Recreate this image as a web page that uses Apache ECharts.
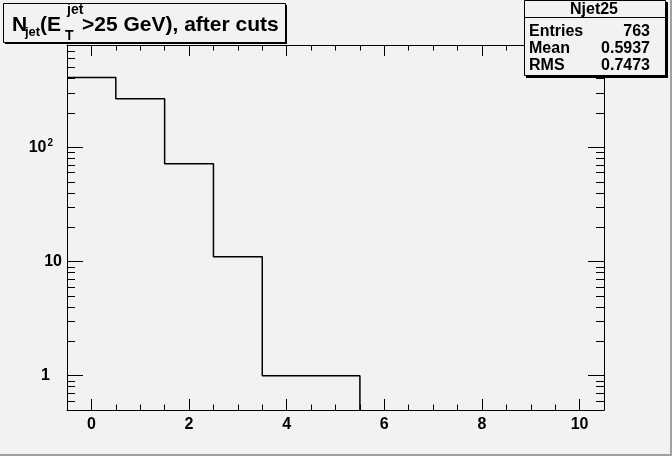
<!DOCTYPE html>
<html>
<head>
<meta charset="utf-8">
<script src="https://cdn.jsdelivr.net/npm/echarts@6/dist/echarts.min.js"></script>
<style>
html,body{margin:0;padding:0;background:#f2f2f2;}
#c{width:672px;height:456px;}
</style>
</head>
<body>
<div id="c"></div>
<script>
// ---- data ----
const binEdges = [-0.5, 0.5, 1.5, 2.5, 3.5, 4.5, 5.5, 6.5, 7.5, 8.5, 9.5, 10.5];
const binCounts = [411, 267, 72, 11, 1, 1, 0, 0, 0, 0, 0];
const xMajorTicks = [0, 2, 4, 6, 8, 10];
const xMinorTicks = [0.5, 1, 1.5, 2.5, 3, 3.5, 4.5, 5, 5.5, 6.5, 7, 7.5, 8.5, 9, 9.5];
const yMajorTicks = [1, 10, 100];
const yMinorTicks = [0.6, 0.7, 0.8, 0.9, 2, 3, 4, 5, 6, 7, 8, 9, 20, 30, 40, 50, 60, 70, 80, 90, 200, 300, 400, 500, 600, 700];
const xRange = [-0.5, 10.5];
const yRange = [0.5, 790];
const histName = 'Njet25';
const statsNames = ['Entries', 'Mean', 'RMS'];
const statsValues = ['763', '0.5937', '0.7473'];

// ---- build step outline from bins ----
const stepPts = [];
let lastNonZero = -1;
binCounts.forEach((v, i) => { if (v > 0) lastNonZero = i; });
for (let i = 0; i <= lastNonZero; i++) {
  const v = binCounts[i] > 0 ? binCounts[i] : yRange[0];
  stepPts.push([binEdges[i], v]);
  stepPts.push([binEdges[i + 1], v]);
}
stepPts.push([binEdges[lastNonZero + 1], yRange[0]]);

const FONT = 'Liberation Sans, Arial, Helvetica, sans-serif';
const gridRect = { left: 67, top: 45, width: 537, height: 365 };

function xAx(gi, pos, ticks, len, showLine, showLabel) {
  return {
    type: 'value', gridIndex: gi, position: pos, min: xRange[0], max: xRange[1],
    axisLine: { show: showLine, onZero: false, lineStyle: { color: '#000', width: 1 } },
    axisTick: { show: true, inside: true, length: len, customValues: ticks, lineStyle: { color: '#000', width: 1 } },
    axisLabel: showLabel ? { show: true, customValues: xMajorTicks, margin: 7, color: '#000', fontFamily: FONT, fontWeight: 'bold', fontSize: 16 } : { show: false },
    splitLine: { show: false }, minorTick: { show: false }
  };
}
function yAx(gi, pos, ticks, len, showLine, showLabel) {
  return {
    type: 'log', logBase: 10, gridIndex: gi, position: pos, min: yRange[0], max: yRange[1],
    axisLine: { show: showLine, onZero: false, lineStyle: { color: '#000', width: 1 } },
    axisTick: { show: true, inside: true, length: len, customValues: ticks, lineStyle: { color: '#000', width: 1 } },
    axisLabel: showLabel ? {
      show: true, customValues: yMajorTicks, margin: 5, color: '#000', fontFamily: FONT, fontWeight: 'bold', fontSize: 16,
      formatter: function (v) {
        if (Math.abs(v - 1) < 1e-6) return '{a|1}';
        if (Math.abs(v - 10) < 1e-6) return '{b|10}';
        if (Math.abs(v - 100) < 1e-6) return '{b|10}{s|2}';
        return '';
      },
      rich: {
        a: { fontFamily: FONT, fontWeight: 'bold', fontSize: 16, color: '#000', padding: [0, 12, 0, 0] },
        b: { fontFamily: FONT, fontWeight: 'bold', fontSize: 16, color: '#000', lineHeight: 18 },
        s: { fontFamily: FONT, fontWeight: 'bold', fontSize: 10, color: '#000', verticalAlign: 'top', padding: [0, 9, 0, 1] }
      }
    } : { show: false },
    splitLine: { show: false }, minorTick: { show: false }
  };
}

function txt(x, y, s, size, align) {
  return { type: 'text', z: 102, x: x, y: y, style: { text: s, fontFamily: FONT, fontWeight: 'bold', fontSize: size, fill: '#000', align: align || 'left', verticalAlign: 'middle' } };
}

const chart = echarts.init(document.getElementById('c'), null, { renderer: 'canvas' });
const option = {
  backgroundColor: '#f2f2f2',
  animation: false,
  grid: [0, 1, 2, 3].map(() => Object.assign({ containLabel: false, outerBoundsMode: 'none' }, gridRect)),
  xAxis: [
    xAx(0, 'bottom', xMajorTicks, 11, true, true),
    xAx(1, 'bottom', xMinorTicks, 5.5, false, false),
    xAx(2, 'top', xMajorTicks, 11, true, false),
    xAx(3, 'top', xMinorTicks, 5.5, false, false)
  ],
  yAxis: [
    yAx(0, 'left', yMajorTicks, 16, true, true),
    yAx(1, 'left', yMinorTicks, 8, false, false),
    yAx(2, 'right', yMajorTicks, 16, true, false),
    yAx(3, 'right', yMinorTicks, 8, false, false)
  ],
  series: [{
    type: 'line', xAxisIndex: 0, yAxisIndex: 0, data: stepPts,
    showSymbol: false, symbol: 'none', clip: true,
    lineStyle: { color: '#000', width: 1.5 }
  }],
  graphic: [
    // canvas border (bottom/right)
    { type: 'rect', z: 100, shape: { x: 0, y: 454, width: 672, height: 2 }, style: { fill: '#a0a0a0' } },
    { type: 'rect', z: 100, shape: { x: 670, y: 0, width: 2, height: 456 }, style: { fill: '#a0a0a0' } },
    // title box
    { type: 'rect', z: 100, shape: { x: 5, y: 5, width: 282, height: 39 }, style: { fill: '#000' } },
    { type: 'rect', z: 101, shape: { x: 3.5, y: 3.5, width: 282, height: 39 }, style: { fill: '#f2f2f2', stroke: '#000', lineWidth: 1 } },
    txt(12, 25, 'N', 21),
    txt(25, 32, 'jet', 13),
    txt(40, 25, '(E', 21),
    txt(67, 10, 'jet', 14),
    txt(65, 36.5, 'T', 14),
    txt(82, 25, '>25 GeV), after cuts', 21),
    // stats box
    { type: 'rect', z: 100, shape: { x: 526, y: 2, width: 142, height: 76 }, style: { fill: '#000' } },
    { type: 'rect', z: 101, shape: { x: 524.5, y: 0.5, width: 141, height: 75 }, style: { fill: '#f2f2f2', stroke: '#000', lineWidth: 1 } },
    { type: 'line', z: 102, shape: { x1: 524.5, y1: 17.5, x2: 665.5, y2: 17.5 }, style: { stroke: '#000', lineWidth: 1 } },
    txt(594, 9.5, histName, 16, 'center')
  ].concat(statsNames.flatMap((n, i) => [
    txt(529, 31.5 + 17 * i, n, 16, 'left'),
    txt(650, 31.5 + 17 * i, statsValues[i], 16, 'right')
  ]))
};
chart.setOption(option);
</script>
</body>
</html>
